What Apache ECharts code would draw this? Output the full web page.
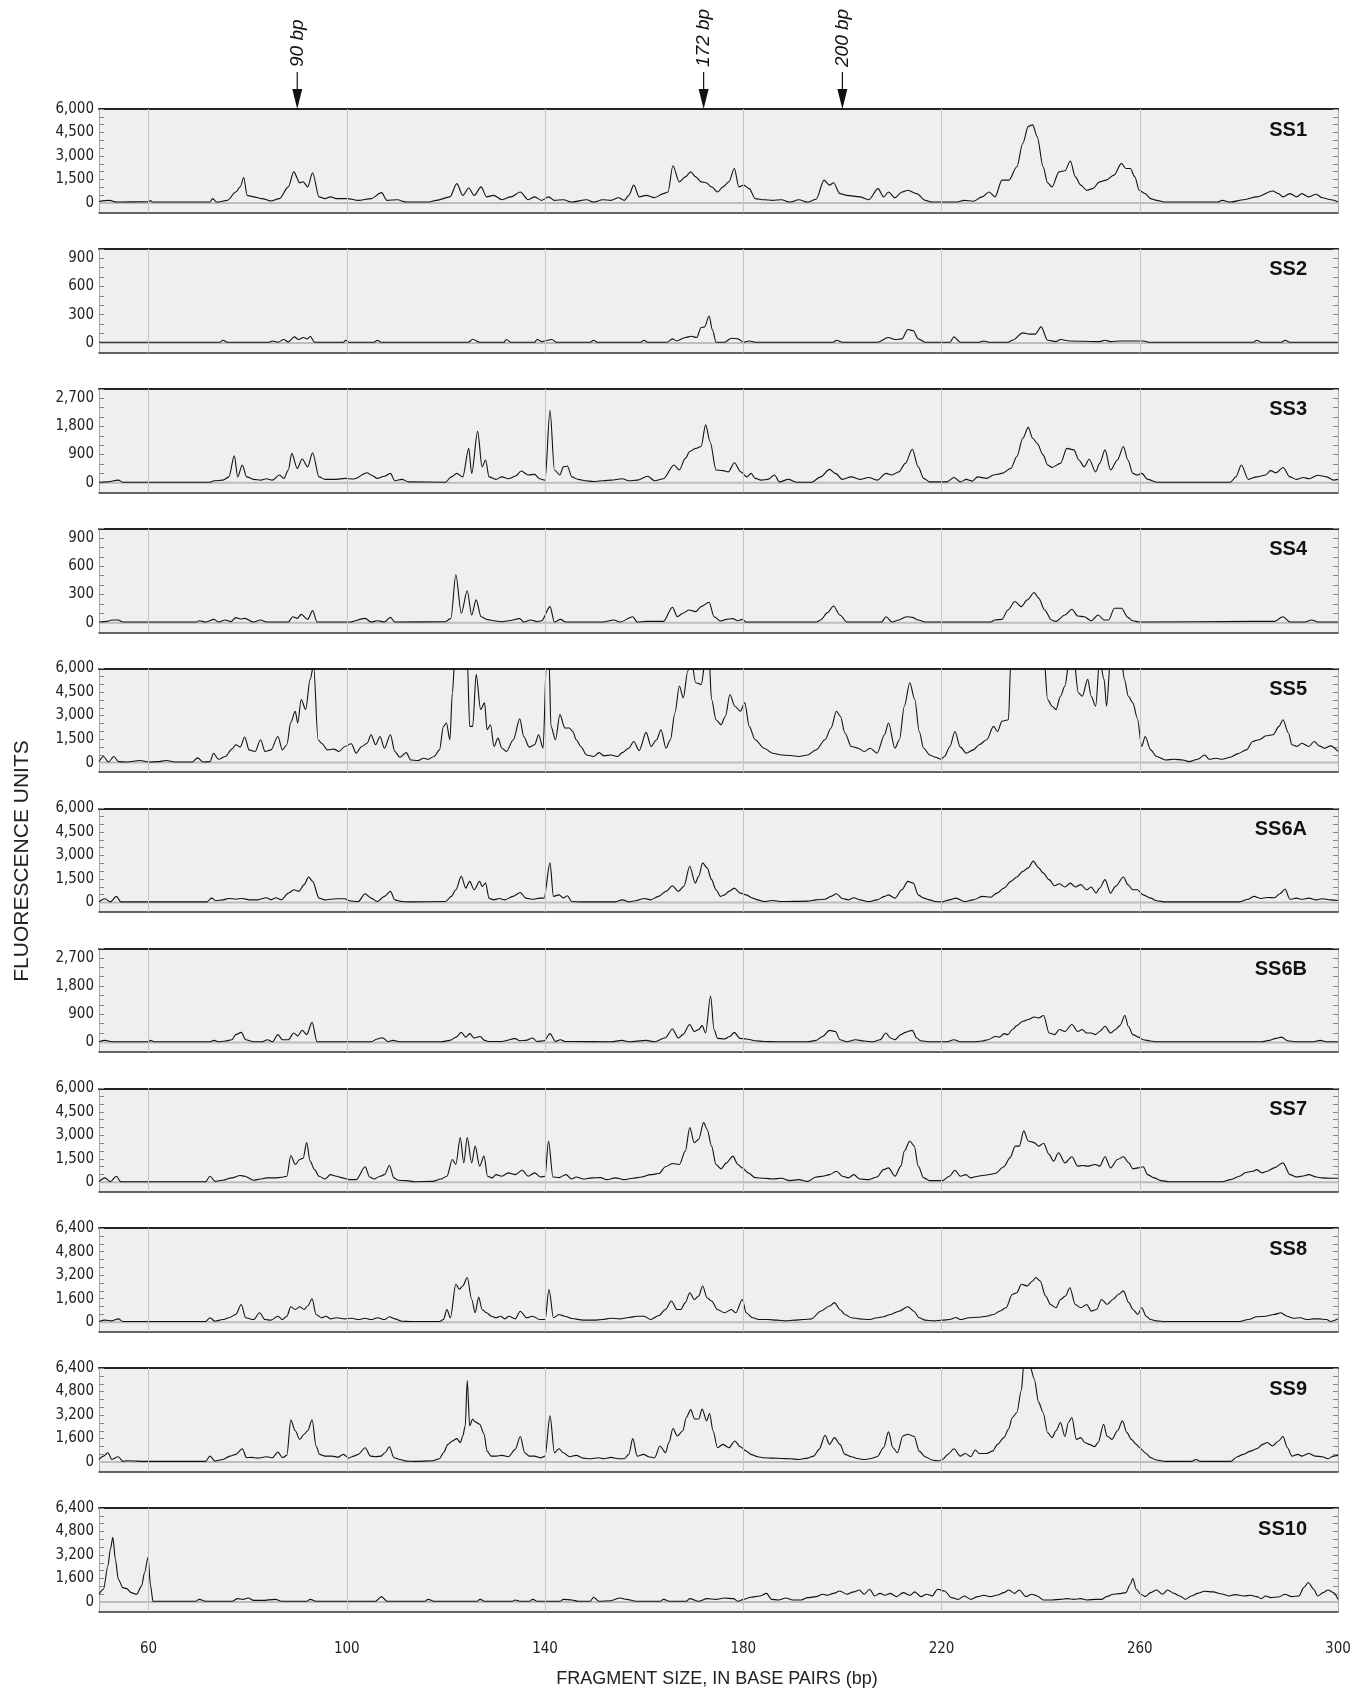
<!DOCTYPE html>
<html><head><meta charset="utf-8">
<script src="https://cdn.jsdelivr.net/npm/echarts@6/dist/echarts.min.js"></script>
<style>html,body{margin:0;padding:0;background:#fff}#c{width:1368px;height:1691px}</style>
</head><body><div id="c"></div>
<script>
// ---------------- DATA ----------------
const sampleNames = ['SS1','SS2','SS3','SS4','SS5','SS6A','SS6B','SS7','SS8','SS9','SS10'];
const yMax = [6000,1000,3000,1000,6000,6000,3000,6000,6400,6400,6400];
const yLabelStep = [1500,300,900,300,1500,1500,900,1500,1600,1600,1600];
const xTickLabels = [60,100,140,180,220,260,300];
const xGridLines = [60,100,140,180,220,260];
const markerSizes = [90,172,200];
const markerLabels = ['90 bp','172 bp','200 bp'];
const xTitle = 'FRAGMENT SIZE, IN BASE PAIRS (bp)';
const yTitle = 'FLUORESCENCE UNITS';

const ss1 = [[50,100],[52.1,170],[53.5,60],[60,80],[60.4,160],[60.8,60],[72.4,60],[72.9,280],[73.8,60],[75.9,170],[77.6,700],[78.5,1030],[79.2,1630],[79.9,490],[81.2,390],[82.9,280],[84.7,130],[86.4,280],[88.2,1030],[89.3,1990],[90.5,1290],[91.2,1350],[92.1,1030],[93.1,1930],[94.4,390],[95.6,280],[96.7,390],[97.9,280],[100.2,280],[102.3,170],[104.9,280],[107,660],[108.1,170],[110.2,210],[112,60],[116.4,60],[118.1,170],[120.8,390],[122.2,1240],[123.4,490],[124.6,960],[125.7,490],[127.1,1030],[128.2,390],[129.6,490],[131.3,210],[133.1,390],[135,700],[136.6,210],[137.9,390],[139.3,170],[140.7,390],[141.9,170],[143.7,210],[145.4,60],[148.4,210],[149.8,60],[151.6,210],[153.3,170],[154.8,340],[156,170],[156.9,490],[157.9,1140],[159,390],[160.4,490],[162.1,340],[163.9,600],[164.8,700],[165.8,2380],[167.1,1350],[168.3,1670],[169.4,1990],[170.4,1670],[171.5,1350],[172.5,1290],[173.6,1030],[174.8,700],[175.9,1030],[177.1,1350],[178.2,2200],[179.1,1030],[180.1,1140],[181.2,920],[182.4,280],[184.2,210],[185.9,170],[187.7,210],[189.4,60],[191.2,210],[193,60],[194.7,240],[196.3,1460],[197.4,1140],[198.2,1290],[199.5,600],[200.9,490],[203.5,390],[205.3,210],[207.2,920],[208.3,390],[209.3,700],[210.6,340],[212,700],[213.2,810],[215,600],[216.7,170],[218.1,60],[222.9,60],[224.6,170],[226.4,110],[228.2,390],[229.6,700],[230.8,390],[232.2,1460],[233.6,1460],[235.2,2310],[236.4,3810],[237.5,4890],[238.4,4990],[239.3,4240],[240.5,2310],[241.4,1290],[242.3,1030],[243.7,1990],[244.9,2060],[246,2680],[247,1670],[248.1,1140],[249.3,810],[250.5,920],[251.9,1350],[253.2,1460],[254.8,1780],[256.3,2530],[257.2,2200],[258.1,2200],[259,1670],[259.9,810],[261.1,600],[262.2,280],[263.4,170],[265.2,60],[275.7,60],[276.6,170],[278.3,60],[281,210],[283.6,390],[286.8,770],[288,600],[288.9,390],[290.3,600],[291.7,390],[292.7,600],[294.1,390],[295.6,560],[296.8,340],[298.6,210],[300,60]];

const ss2 = [[50,7],[74.4,7],[75,29],[75.9,7],[84.3,7],[85,21],[86.1,7],[87.3,36],[88.2,11],[89.4,64],[90.3,36],[91.2,57],[92.1,43],[92.6,71],[93.5,7],[99.3,7],[99.8,29],[100.5,7],[105.5,7],[106.2,29],[106.9,7],[124.5,7],[125.4,39],[126.8,7],[131.7,7],[132.2,36],[133.1,7],[137.9,7],[138.4,36],[139.3,14],[141.4,36],[142.3,7],[149.1,7],[149.8,29],[150.5,7],[159.3,7],[160,29],[160.7,7],[164.6,7],[165.7,43],[166.5,21],[168.3,57],[169.5,71],[170.6,57],[171.5,164],[172.2,171],[173.1,286],[173.8,136],[174.5,7],[176.2,7],[177.6,50],[178.9,43],[180.1,7],[181.2,21],[182.4,7],[198.1,7],[198.8,29],[200,7],[207,7],[209.3,57],[210.6,36],[212,43],[213.2,143],[214.3,129],[215.3,43],[216.7,7],[221.7,7],[222.5,64],[223.8,7],[227.6,7],[228.5,21],[229.6,7],[233.4,7],[234.3,29],[236.4,107],[237.8,93],[238.9,93],[240.1,171],[241.4,29],[243.1,14],[244,36],[245.8,21],[251.9,14],[253,29],[254.1,14],[256,21],[260.8,21],[261.8,7],[282.9,7],[283.6,29],[284.5,7],[288.6,7],[289.3,29],[290.3,7],[300,7]];

const ss3 = [[50,20],[51.6,30],[53.9,86],[54.8,20],[72.4,20],[73.2,64],[75,86],[76.2,190],[77.3,860],[78,190],[78.9,570],[79.8,190],[81.2,110],[82.6,86],[83.8,130],[85,86],[86.4,250],[87.3,140],[88.2,410],[88.9,940],[90,460],[91,760],[92.1,510],[93.1,960],[94.4,190],[95.6,110],[97.9,110],[99.6,140],[101.4,120],[104.1,320],[104.9,250],[106.2,140],[107.6,210],[108.8,300],[109.7,64],[111.1,110],[112.5,30],[119.9,20],[121.1,190],[122.2,300],[123.4,190],[124.6,1100],[125.2,300],[126.4,1640],[127.3,510],[128,730],[128.7,190],[130.1,110],[131.3,190],[132.6,130],[134,210],[135.2,375],[136.6,250],[137.9,270],[138.9,130],[140,86],[141,2310],[141.9,410],[143,250],[143.7,510],[144.5,535],[145.4,190],[146.7,110],[148.1,64],[149.8,43],[153.3,86],[155.6,130],[156.9,64],[158.6,86],[160.7,210],[162.1,64],[163.9,130],[166,570],[167.1,410],[168.3,780],[169.2,1000],[170.4,1100],[171.5,1160],[172.4,1850],[173.3,1320],[174.5,410],[175.9,390],[177,350],[178.2,640],[179.5,350],[180.7,190],[181.6,300],[182.4,140],[183.6,86],[185,110],[186.3,250],[187.3,30],[189.1,110],[190.7,20],[193.8,20],[195.6,190],[197.4,430],[198.6,300],[200,110],[201.8,190],[203.5,110],[205.3,170],[207,86],[208.8,300],[210,250],[211.4,350],[212.7,620],[214.1,1070],[215.3,510],[216.4,140],[217.6,30],[221.1,30],[222.5,170],[223.8,30],[225,110],[226.2,54],[227.3,190],[229.1,140],[230.5,250],[232.2,300],[234,460],[235.2,840],[236.4,1420],[237.5,1770],[238.4,1420],[239.3,1260],[240.5,890],[241.4,570],[242.3,490],[244,620],[245.3,1100],[246.7,1050],[247.7,730],[248.8,510],[249.8,750],[251.1,350],[251.9,620],[253,1050],[254.1,410],[255.5,730],[256.7,1160],[257.6,730],[258.6,300],[259.5,250],[260.4,300],[261.6,110],[263.4,20],[278.3,20],[279.4,190],[280.5,570],[281.9,110],[283.6,190],[285.4,250],[286.4,390],[287.5,320],[288.9,490],[290.3,190],[291.6,110],[293,170],[294.2,130],[295.9,240],[297.7,190],[299.1,86],[300,110]];

const ss4 = [[50,7],[51.6,14],[52.6,29],[53.9,29],[54.8,7],[69.7,7],[70.2,21],[71.5,7],[73.2,36],[74.1,7],[75.5,29],[76.6,11],[77.6,54],[78.5,39],[79.4,46],[81.2,7],[82.6,29],[83.8,7],[88.2,7],[89.1,64],[90,46],[90.8,89],[92.1,36],[93.1,129],[94,7],[100.5,7],[103.7,46],[104.9,7],[106.2,21],[107.6,7],[108.8,57],[109.7,7],[119.9,11],[121,46],[122,510],[123.1,100],[124.3,340],[125.2,82],[126.1,243],[127.1,64],[128.2,36],[129.6,21],[131.3,11],[132.6,21],[134.9,43],[135.7,7],[137.1,29],[138.4,11],[139.3,21],[141,171],[141.9,7],[143.1,36],[144.2,7],[151.6,7],[153.9,29],[155.1,7],[157.7,64],[158.6,7],[160.4,14],[163.9,14],[165.7,164],[166.7,64],[167.8,100],[169,136],[170.4,118],[171.5,171],[173.1,218],[174.1,64],[175.4,18],[176.6,36],[177.9,43],[178.9,21],[179.8,36],[180.6,7],[194.8,7],[195.6,29],[197,107],[198.2,178],[199.5,82],[200.9,7],[207.9,7],[208.8,64],[210,7],[211.4,29],[212.9,64],[214.1,57],[215.3,29],[216.7,7],[229.9,7],[230.8,29],[232.2,36],[233.4,136],[234.8,225],[236.1,171],[237.3,243],[238.7,321],[239.6,261],[240.8,136],[242.2,29],[243.1,14],[244.9,82],[246.3,143],[247.5,71],[248.8,64],[250.2,21],[251.6,82],[252.8,29],[253.7,29],[254.9,154],[256.3,154],[257.6,57],[258.6,21],[259.9,7],[282.8,14],[287.2,14],[288.9,64],[290.3,7],[293.3,7],[294.7,29],[296,7],[300,7]];

const ss5 = [[50,60],[50.9,390],[51.9,40],[53,390],[53.9,60],[55.6,40],[58.3,130],[60,40],[61.8,60],[63.6,130],[65.3,40],[68.8,40],[69.9,300],[71,40],[72.4,60],[73.1,600],[74.1,210],[75.5,390],[76.8,860],[77.6,1140],[78.5,990],[79.4,1630],[80.3,810],[81.5,710],[82.6,1460],[83.5,710],[84.7,810],[86.1,1670],[87,810],[87.9,1140],[88.7,2570],[89.6,3280],[90.1,2530],[90.8,4030],[91.7,3390],[92.6,5310],[93.3,6200],[94.2,1460],[94.9,1240],[96.1,810],[97.4,860],[98.4,710],[99.6,1030],[100.9,1200],[101.9,600],[103,1030],[104.1,1240],[104.9,1780],[105.8,1140],[106.7,1670],[107.6,920],[108.8,1780],[109.7,710],[110.7,340],[112,640],[112.9,170],[114.3,130],[115.5,280],[116.4,210],[117.6,390],[118.7,810],[119.5,2310],[120.1,2530],[120.8,1460],[121.3,4460],[121.8,6600],[123.1,6600],[124.3,6600],[124.8,2310],[125.4,2310],[126.1,5640],[127,3390],[127.8,3810],[128.3,2100],[129,2420],[129.7,1030],[130.5,1560],[131.3,920],[132.2,710],[133.6,1460],[134.9,2790],[135.7,1670],[136.8,990],[137.9,1140],[138.7,1780],[139.6,920],[140.3,6600],[140.8,6600],[141.2,2310],[142.1,1460],[143,3060],[144,2210],[144.9,2210],[145.6,1990],[146.3,1460],[147.2,1030],[148.4,490],[149.8,390],[150.9,640],[151.9,430],[153.3,490],[154.6,390],[155.6,640],[156.9,920],[157.9,1350],[159,770],[160.4,1930],[161.4,1030],[162.5,1460],[163.4,2100],[164.4,920],[165.3,1460],[166.2,3170],[167.1,4890],[167.9,4140],[168.8,5850],[169.5,6600],[170.4,5100],[171.5,4990],[172.4,6600],[173.1,6600],[173.6,4030],[174.5,2740],[175.5,2420],[176.4,2960],[177.3,4350],[178.3,3600],[179.4,3280],[180.3,3810],[181.2,2310],[182.4,1460],[184.2,920],[185.9,600],[187.7,490],[189.4,450],[191.2,390],[193,490],[194.7,810],[196.5,1460],[197.7,2210],[198.8,3280],[199.6,2960],[200.5,1890],[201.8,1030],[203.2,920],[204.4,710],[205.6,920],[207,600],[208.5,1780],[209.3,2530],[210.6,920],[211.5,1460],[212.5,3600],[213.6,5100],[214.6,4030],[215.5,1990],[216.4,920],[217.6,490],[218.8,340],[219.9,210],[220.6,390],[221.7,1030],[222.7,1990],[223.8,990],[225,600],[226.4,810],[227.6,1140],[229.1,1460],[230.5,2310],[231.3,1990],[232.2,2640],[233.5,2740],[234,6600],[240.7,6600],[241.4,4030],[242.3,3600],[243.1,3390],[244,4240],[244.9,4890],[245.8,6600],[246.7,6600],[247.6,4460],[248.4,4240],[249.5,5310],[250.2,4240],[251.1,3600],[251.9,6600],[252.8,5310],[253.3,3600],[254.1,6600],[256.3,6600],[256.9,5310],[257.7,4240],[258.6,3810],[259.5,2850],[260.4,1030],[261.1,1670],[262.2,810],[263.4,390],[265.2,170],[266.9,210],[268.7,170],[269.9,60],[271.7,210],[273.1,490],[274,210],[275.4,280],[276.6,210],[278.3,340],[279.7,560],[281.5,810],[282.8,1350],[284.1,1460],[285.5,1710],[286.9,1780],[288.1,2310],[288.9,2740],[290,1890],[290.7,1140],[291.7,1030],[292.7,1240],[294.1,1030],[295.2,1350],[296.2,1070],[297.3,920],[298.5,1070],[300,710]];

const ss6a = [[50,40],[51.2,240],[52.3,40],[53.5,390],[54.4,40],[71.8,40],[72.7,280],[73.6,110],[75,170],[76.2,260],[77.6,210],[78.9,260],[80.3,170],[82,170],[83.8,300],[84.7,170],[85.7,300],[86.8,170],[88.2,600],[89.3,810],[90.3,710],[91.4,1140],[92.3,1630],[93.1,1350],[94.4,280],[95.6,170],[97.9,240],[99.6,240],[100.5,110],[102.3,60],[103.7,560],[104.9,280],[106.2,60],[107.6,390],[108.8,710],[109.7,170],[111.1,60],[112.5,40],[119.9,60],[121.1,390],[122,810],[123.1,1670],[124,920],[124.8,1350],[125.7,810],[126.8,1350],[127.3,1030],[128,1240],[128.7,280],[129.6,170],[130.8,260],[131.9,170],[133.5,390],[135,640],[136.1,280],[137.5,210],[138.9,280],[139.8,280],[141,2530],[141.7,390],[142.8,490],[143.7,280],[144.5,430],[145.4,60],[147.2,40],[154.2,40],[155.6,170],[156.9,40],[158.3,110],[160,260],[161.3,170],[162.9,390],[164.4,710],[165.7,1070],[166.9,710],[168,1030],[169.2,2310],[170.3,1240],[171,1670],[171.8,2530],[172.7,2210],[173.6,1460],[174.5,810],[175.4,390],[176.2,490],[177.1,710],[178.2,920],[179.4,600],[180.6,490],[181.9,280],[182.9,170],[184.2,60],[185.9,130],[187.7,60],[193,90],[194.7,170],[196.5,210],[197.7,390],[198.8,560],[200,260],[201.2,170],[202.3,300],[203.5,170],[205.3,60],[207,170],[208.5,390],[209.3,490],[210.6,280],[212,810],[213.2,1350],[214.3,1240],[215.3,490],[216.4,280],[217.6,170],[218.8,60],[220.2,40],[221.6,170],[222.9,280],[224.6,60],[226.4,170],[228.2,390],[229.9,340],[231.2,600],[232.6,920],[234,1350],[235.2,1630],[236.4,1990],[237.5,2210],[238.5,2640],[239.6,2210],[240.5,1890],[241.7,1460],[242.8,1070],[243.8,1200],[244.9,990],[246,1240],[247,990],[248.1,1140],[249.3,810],[250.2,990],[251.2,600],[251.9,920],[253,1460],[254.1,600],[255.1,1030],[256.7,1630],[257.6,1140],[258.6,810],[259.5,810],[260.7,490],[262.2,280],[263.4,110],[265.2,40],[280.1,40],[281.9,210],[283,390],[284.5,260],[285.7,320],[287.1,300],[288.3,560],[289.3,860],[290.3,210],[291.6,280],[292.7,210],[294.1,280],[295.6,170],[296.8,240],[298.5,170],[300,130]];

const ss6b = [[50,20],[51.2,64],[52.6,20],[60,20],[60.4,64],[61.1,20],[72.4,20],[73.2,64],[74.1,20],[75.5,43],[76.8,86],[77.6,250],[78.7,320],[79.6,86],[81.2,20],[82.9,20],[84,86],[85,20],[86.1,250],[87,86],[88.2,86],[89.3,300],[90.1,210],[91,390],[91.9,250],[93,640],[94,20],[104.9,20],[106.2,110],[107.2,150],[108.3,30],[109.3,64],[110.6,20],[119,20],[120.8,64],[122,160],[123.1,320],[124,170],[124.8,280],[125.7,140],[126.9,190],[127.8,64],[128.7,30],[131.3,30],[134,120],[134.9,54],[136.1,64],[137.5,140],[138.4,30],[139.8,54],[141,280],[142.1,30],[143.1,86],[144,30],[145.4,30],[153.3,20],[155.5,64],[156.9,20],[160.4,64],[162.1,20],[164.3,150],[165.7,430],[166.9,140],[167.8,250],[169.2,570],[170.1,350],[171,410],[171.7,535],[172.4,300],[173.4,1480],[174.1,410],[174.8,130],[176.2,110],[177.3,190],[178.2,320],[179.3,130],[180.6,110],[182.4,54],[184.2,30],[186.8,20],[193,20],[194.7,64],[196,190],[197.4,385],[198.6,350],[199.5,86],[200.9,20],[202.6,86],[204.4,43],[206.2,20],[207.6,86],[208.8,300],[209.7,140],[210.6,86],[211.8,250],[212.7,320],[214.1,385],[215,140],[215.8,54],[217.6,20],[221.1,20],[222.5,86],[223.8,20],[226.4,20],[228.2,43],[229.4,86],[230.8,190],[231.7,170],[232.6,280],[233.4,250],[234.3,410],[235.2,535],[236.4,675],[237.5,730],[238.7,810],[239.6,780],[240.6,860],[241.7,300],[242.8,250],[243.8,410],[244.9,350],[246.3,570],[247.5,350],[248.4,410],[249.3,300],[250.2,300],[251.1,250],[251.9,350],[253,515],[254.1,300],[255.1,410],[256,535],[257,860],[257.7,515],[258.6,250],[259.7,170],[260.7,86],[262.2,43],[263.4,20],[284.5,20],[286.2,64],[287.5,130],[288.6,170],[289.8,54],[291.6,20],[295,20],[296.4,64],[297.7,20],[300,20]];

const ss7 = [[50,40],[51.2,280],[52.3,40],[53.5,390],[54.4,40],[71.5,40],[72.4,390],[73.4,60],[75,130],[76.8,280],[78.5,430],[79.4,390],[81.2,130],[82.6,210],[83.8,280],[85.6,280],[86.8,320],[87.9,390],[88.7,1710],[89.6,1140],[90.5,1460],[91.2,1540],[91.9,2530],[92.6,1350],[93.5,810],[94.4,390],[95.6,210],[96.7,490],[97.9,390],[99.1,280],[100.5,170],[101.9,170],[103.7,990],[104.6,340],[105.5,210],[106.7,390],[107.6,490],[108.6,1070],[109.5,280],[110.4,130],[112,110],[113.7,40],[117.3,60],[119,210],[120.2,390],[121.3,1460],[122,1140],[122.9,2850],[123.6,1240],[124.3,2850],[125.2,1240],[125.9,2310],[126.8,1030],[127.7,1670],[128.4,390],[129.3,280],[130.1,490],[131.3,390],[132.6,600],[134,490],[135.4,770],[136.6,390],[137.9,600],[139.1,340],[140,390],[140.7,2640],[141.6,340],[142.8,300],[144.2,490],[145.4,210],[146.3,340],[147.7,210],[149.5,280],[151.2,300],[152.5,170],[154.2,280],[156,170],[157.7,260],[159.5,340],[161.3,490],[163,560],[164.3,990],[165.7,1200],[167.1,1140],[168.3,1990],[169.2,3490],[170.1,2530],[171,2740],[172,3810],[172.7,3390],[173.6,2310],[174.5,1140],[175.5,860],[176.6,1240],[177.9,1670],[178.9,1140],[179.8,920],[181,600],[182.4,300],[184.2,260],[185.9,210],[187.7,260],[189.4,110],[191.2,170],[193,60],[194.7,340],[196,390],[197.4,490],[198.8,710],[200,390],[201.2,280],[202.3,490],[203.5,210],[205.3,170],[207,340],[208.3,810],[209.3,920],[210.6,390],[211.8,1030],[212.5,1990],[213.6,2640],[214.5,2310],[215.3,1030],[216.4,280],[217.6,110],[220.2,110],[221.6,390],[222.7,770],[223.8,390],[224.9,490],[225.9,280],[227.3,390],[229.1,470],[230.8,560],[232.6,990],[233.8,1560],[234.9,2310],[235.7,2310],[236.6,3280],[237.5,2640],[238.7,2530],[239.6,2310],[240.6,2490],[241.7,1780],[242.6,1350],[243.6,1890],[244.9,1240],[246.3,1630],[247.5,1030],[248.4,1070],[249.6,1030],[251,1140],[251.9,1030],[253,1630],[254.1,920],[255.5,1460],[256.7,1630],[257.8,1240],[258.6,860],[259.7,920],[260.7,990],[261.6,490],[262.9,280],[264.3,110],[266,40],[276.6,40],[278.3,170],[280.1,390],[281.5,640],[282.8,710],[283.6,810],[284.7,600],[285.7,710],[287.1,920],[288.9,1240],[290.3,490],[291.6,340],[292.7,390],[294.1,490],[295.6,340],[296.8,280],[298.5,260],[300,260]];

const ss8 = [[50,50],[51.2,140],[52.6,90],[53.9,230],[54.8,50],[71.5,50],[72.4,300],[73.4,70],[75,180],[76.2,300],[77.6,530],[78.7,1210],[79.6,300],[81.2,180],[82.4,640],[83.5,180],[84.7,140],[86.1,410],[87,180],[87.9,410],[88.7,1050],[89.6,870],[90.5,1050],[91.4,870],[92.1,1100],[93,1600],[93.8,530],[94.9,300],[95.8,410],[96.7,230],[97.9,300],[99.6,230],[101.1,270],[102.3,180],[103.7,270],[104.9,180],[106.2,300],[107.6,180],[108.6,370],[109.7,230],[111.1,70],[112.9,50],[118.7,50],[119.5,180],[120.2,870],[120.9,300],[122,2580],[122.7,2240],[123.4,2470],[124.3,3040],[125.2,1550],[125.9,640],[126.6,1710],[127.3,870],[128.2,640],[129.2,410],[130.1,300],[131,410],[131.9,230],[132.7,410],[134,230],[135,750],[136.3,300],[137.5,410],[138.9,180],[140,180],[140.8,2240],[141.7,300],[142.8,530],[143.9,410],[145.4,250],[147.7,140],[149.8,140],[151.6,180],[153.3,270],[155.1,230],[156.9,320],[158.6,410],[160,410],[161.3,180],[163,460],[164.3,870],[165.5,1440],[166.6,870],[167.4,870],[168.3,1330],[169.2,2010],[170.1,1550],[171,1780],[171.8,2470],[172.7,1670],[173.6,1440],[174.8,870],[176.2,640],[177.6,870],[178.5,640],[179.8,1550],[180.6,640],[181.9,300],[183.3,180],[185,180],[186.8,140],[188.6,90],[190.3,140],[192.1,180],[193.8,230],[195.6,750],[197.4,1100],[198.4,1330],[199.5,870],[200.5,530],[201.8,300],[203.5,230],[205.3,180],[207,300],[208.3,370],[209.7,530],[211.4,750],[213.2,1050],[214.4,750],[215.5,300],[216.7,140],[218.5,90],[220.2,140],[221.6,180],[222.9,320],[223.8,180],[225.5,300],[227.3,340],[229.1,410],[230.5,530],[231.7,750],[233,980],[234.3,1900],[235.2,2010],[236.1,2580],[237.3,2470],[238.4,2810],[239,3040],[239.9,2810],[241,1780],[242,1210],[243.1,980],[244,1550],[245,1780],[245.9,2350],[247,1210],[248.1,980],[249.3,1210],[250.2,750],[251.3,870],[252.3,1550],[253.4,1210],[254.6,1550],[255.7,1900],[256.7,2130],[257.8,1330],[258.6,870],[259.6,530],[260.4,980],[261.3,410],[262.2,180],[263.4,90],[265.2,50],[280.1,50],[281.9,180],[283.6,370],[285.4,410],[287.1,530],[288.5,640],[289.7,410],[291,270],[292.4,300],[293.8,180],[295,230],[296.2,230],[297.7,180],[298.5,50],[300,230]];

const ss9 = [[50,180],[50.9,410],[51.8,640],[52.6,180],[53.9,370],[54.8,50],[55.6,90],[60,50],[71.5,50],[72.4,410],[73.4,70],[75,180],[76.4,410],[77.6,530],[78.9,910],[79.8,300],[80.8,320],[82,270],[83.8,370],[85,300],[86.1,690],[87,300],[87.9,460],[88.7,2860],[89.6,2130],[90.5,1550],[91.4,1900],[92.1,2130],[93,2880],[93.8,1100],[94.5,530],[95.6,410],[97,410],[98.2,340],[99.3,530],[100.4,270],[101.4,410],[102.3,530],[103.7,980],[104.8,410],[105.8,370],[106.9,410],[107.7,640],[108.6,1050],[109.5,300],[110.7,180],[112,70],[113.7,50],[117.3,90],[118.7,230],[119.5,640],[120.4,1210],[121.3,1440],[122.2,1600],[122.9,1330],[123.4,1780],[123.9,2470],[124.3,5560],[124.8,2470],[125.4,2930],[125.9,2740],[126.8,2580],[127.7,1900],[128.3,750],[129.1,410],[130.1,410],[131.3,460],[132.6,370],[134,870],[135,1740],[135.9,640],[136.8,410],[137.9,410],[139.1,300],[140,410],[141,3150],[141.9,640],[142.8,910],[143.7,640],[144.9,370],[146.3,460],[147.7,270],[149,230],[150.8,300],[151.9,230],[153.3,320],[154.8,230],[156,230],[156.9,530],[157.7,1600],[158.6,410],[159.9,530],[160.9,370],[162.1,300],[163.2,1100],[164.3,640],[165,1330],[165.8,2290],[166.7,1780],[167.8,2130],[168.5,3040],[169.4,3570],[170.2,2930],[171,2930],[171.7,3610],[172.6,2810],[173.2,3310],[173.9,2130],[174.8,980],[175.9,1210],[177.1,980],[178.3,1440],[179.4,1050],[180.6,750],[181.5,530],[182.9,370],[184.2,300],[185.9,270],[187.7,250],[189.4,230],[191.2,180],[193,270],[194.2,410],[195.3,870],[196.5,1830],[197.4,1210],[198.4,1670],[199.5,1210],[200.5,530],[201.8,370],[203,250],[204.4,180],[205.8,250],[207,370],[208.3,980],[209.3,2060],[210.2,980],[211.1,640],[212.2,1780],[213.2,1900],[214.5,1740],[215.5,750],[216.7,370],[218.1,140],[219.4,90],[220.2,180],[221.3,530],[222.5,910],[223.8,410],[224.8,590],[225.9,370],[226.8,820],[227.6,590],[229.1,590],[230.3,750],[231.3,1210],[232.6,1670],[233.5,2240],[234.3,3040],[235.2,3380],[236.1,4870],[236.6,6600],[237.8,6600],[238.7,5670],[239.6,4070],[240.5,3380],[241.4,2010],[242.3,1670],[243.1,2130],[244,2700],[244.9,1740],[245.6,2700],[246.3,3040],[247.2,1550],[248.1,1670],[248.9,1330],[249.8,1210],[250.9,1050],[251.6,1330],[252.7,2580],[253.4,1780],[254.4,1550],[255.5,2130],[256.5,2810],[257.4,2010],[258.3,1550],[259.3,1210],[260,980],[261.1,640],[262.2,300],[263.4,140],[265.2,50],[270.4,50],[271.3,180],[272.3,50],[278.3,50],[279.7,370],[280.9,530],[282.3,750],[283.6,910],[284.8,1210],[285.7,1330],[286.8,1100],[288,1440],[288.9,1740],[289.8,980],[290.7,410],[291.9,530],[292.7,410],[294.1,590],[295.4,410],[296.8,370],[298,230],[299.1,410],[300,460]];

const ss10 = [[50,530],[50.9,870],[51.8,2470],[52.3,3610],[52.8,4410],[53.3,2930],[53.9,1550],[54.8,980],[55.6,910],[56.5,640],[57.6,530],[58.6,1100],[59.2,2010],[59.9,3040],[60.4,1100],[60.9,50],[69.5,50],[70.2,180],[71.5,50],[76.8,50],[78,230],[79,180],[80.1,270],[81.2,110],[82.9,110],[85.6,180],[86.8,50],[91.9,50],[92.6,180],[93.8,50],[105.8,50],[107,370],[108.1,50],[115.7,50],[116.4,180],[117.6,50],[126.2,50],[126.9,180],[127.8,50],[133.3,50],[134,140],[134.9,50],[136.8,50],[137.5,180],[138.4,50],[143,50],[143.7,180],[145.4,140],[146.7,50],[149.1,50],[149.8,320],[150.9,50],[153.3,90],[155.1,270],[156.5,180],[158.3,50],[163.2,50],[163.9,180],[165.1,50],[168.5,50],[169.2,230],[171,50],[172.7,230],[174.5,180],[176.2,270],[178,230],[178.9,50],[180.1,180],[181.5,320],[183.3,410],[184.7,590],[185.7,180],[187.1,140],[188.6,270],[190,140],[191.7,140],[193,300],[194.7,370],[196,530],[197,460],[198.2,590],[199.5,750],[200.9,530],[202.3,690],[203.4,820],[204.4,530],[205.5,870],[206.5,410],[207.6,590],[208.6,460],[209.7,590],[210.9,370],[212.3,640],[213.6,460],[214.6,690],[215.8,370],[217,530],[218.1,410],[219.2,870],[220.6,750],[222,300],[223.4,180],[224.6,410],[225.9,180],[227.3,370],[228.5,460],[229.9,370],[231.1,460],[232.6,640],[233.6,820],[234.7,590],[235.7,820],[237,370],[238.2,530],[239.3,410],[240.5,140],[242.3,140],[244,180],[245.3,230],[246.7,180],[248.1,230],[249.3,140],[251.1,180],[252.3,180],[253.3,370],[254.6,530],[255.8,570],[257.2,640],[258.1,1210],[258.6,1600],[259.3,870],[260.2,530],[261.1,370],[262.2,640],[263.4,820],[264.6,530],[265.6,820],[266.9,590],[268.1,410],[269.2,180],[270.4,410],[271.7,590],[273.1,730],[274.8,690],[276.6,550],[278,410],[279.2,500],[281,410],[282.4,460],[283.6,370],[284.5,230],[285.4,410],[286.4,300],[288,340],[289.3,530],[290.7,370],[292.1,410],[293.1,980],[294,1330],[295.1,870],[295.9,410],[297,640],[298,820],[299.1,640],[300,180]];

const traces = [ss1, ss2, ss3, ss4, ss5, ss6a, ss6b, ss7, ss8, ss9, ss10];

// ---------------- LAYOUT ----------------
const W = 1368, gridLeft = 99, gridRight = 30, top0 = 109, stepY = 139.9, panelH = 103.6;
const labelFont = "'Liberation Sans Narrow','DejaVu Sans Condensed','Liberation Sans',sans-serif";
const fmt = v => Number(v).toLocaleString('en-US');

const grid = [], xAxis = [], yAxis = [], series = [];
sampleNames.forEach((name, i) => {
  const top = top0 + i * stepY;
  grid.push({ left: gridLeft, right: gridRight, top: top, height: panelH, show: true,
    backgroundColor: '#efefef', borderWidth: 0 });
  const isLast = i === sampleNames.length - 1;
  xAxis.push({ type: 'value', gridIndex: i, min: 50, max: 300, position: 'bottom',
    axisLine: { show: true, onZero: false, lineStyle: { color: '#333', width: 1.5 } },
    axisTick: { show: false },
    splitLine: { show: false },
    axisLabel: { show: isLast, customValues: xTickLabels, margin: 30,
      fontFamily: labelFont, fontSize: 15, color: '#222' } });
  xAxis.push({ type: 'value', gridIndex: i, min: 50, max: 300, position: 'top',
    axisLine: { show: true, onZero: false, lineStyle: { color: '#222', width: 2 } },
    axisTick: { show: false }, axisLabel: { show: false }, splitLine: { show: false } });
  const mx = yMax[i], st = yLabelStep[i];
  const mn = -mx * 0.102;
  const labelVals = [0, st, 2 * st, 3 * st, 4 * st].filter(v => v <= mx);
  const tickVals = [];
  for (let k = 0; k <= 12; k++) { const v = k * st / 3; if (v <= mx + 1e-6) tickVals.push(v); }
  yAxis.push({ type: 'value', gridIndex: i, min: mn, max: mx, position: 'left',
    axisLine: { show: true, onZero: false, lineStyle: { color: '#aaa', width: 1 } },
    axisTick: { show: true, inside: true, length: 5, customValues: tickVals, lineStyle: { color: '#888' } },
    axisLabel: { show: true, customValues: labelVals, formatter: fmt, margin: 5,
      fontFamily: labelFont, fontSize: 15, color: '#222' },
    splitLine: { show: false } });
  yAxis.push({ type: 'value', gridIndex: i, min: mn, max: mx, position: 'right',
    axisLine: { show: true, onZero: false, lineStyle: { color: '#aaa', width: 1 } },
    axisTick: { show: true, inside: true, length: 5, customValues: tickVals, lineStyle: { color: '#888' } },
    axisLabel: { show: false }, splitLine: { show: false } });
  // zero line + vertical reference lines
  series.push({ type: 'line', xAxisIndex: 2 * i, yAxisIndex: 2 * i, z: 1, silent: true,
    data: [[50, 0], [300, 0]], showSymbol: false, symbol: 'none',
    lineStyle: { color: '#bdbdbd', width: 2 },
    markLine: { silent: true, symbol: 'none', label: { show: false }, animation: false,
      lineStyle: { color: '#c4c4c4', width: 1, type: 'solid' },
      data: xGridLines.map(v => ({ xAxis: v })) } });
  series.push({ type: 'line', name: name, xAxisIndex: 2 * i, yAxisIndex: 2 * i, z: 3,
    data: traces[i], showSymbol: false, symbol: 'none', clip: true,
    smooth: 0.3, smoothMonotone: 'x',
    lineStyle: { color: '#111', width: 1.1 } });
});

const chart = echarts.init(document.getElementById('c'), null, { renderer: 'canvas' });
chart.setOption({ animation: false, backgroundColor: '#fff', grid, xAxis, yAxis, series });

// ---------------- ANNOTATIONS ----------------
const graphic = [];
sampleNames.forEach((name, i) => {
  const top = top0 + i * stepY;
  graphic.push({ type: 'text', x: W - gridRight - 31, y: top + 21,
    style: { text: name, font: "bold 20px 'Liberation Sans', Arial, sans-serif",
      fill: '#111', align: 'right', verticalAlign: 'middle' } });
});
markerSizes.forEach((bp, k) => {
  const px = chart.convertToPixel({ xAxisIndex: 0 }, bp);
  const py = top0;
  graphic.push({ type: 'text', x: px, y: 67, rotation: Math.PI / 2,
    style: { text: markerLabels[k], font: "italic 19px 'Liberation Sans', Arial, sans-serif",
      fill: '#111', align: 'left', verticalAlign: 'middle' } });
  graphic.push({ type: 'line', shape: { x1: px, y1: 72, x2: px, y2: py - 10 },
    style: { stroke: '#111', lineWidth: 1.2 } });
  graphic.push({ type: 'polygon', shape: { points: [[px - 5, py - 20], [px + 5, py - 20], [px, py]] },
    style: { fill: '#111' } });
});
graphic.push({ type: 'text', x: 22, y: 861, rotation: Math.PI / 2,
  style: { text: yTitle, font: "21px 'Liberation Sans', Arial, sans-serif", fill: '#222',
    align: 'center', verticalAlign: 'middle' } });
graphic.push({ type: 'text', x: 717, y: 1679,
  style: { text: xTitle, font: "18px 'Liberation Sans', Arial, sans-serif", fill: '#222',
    align: 'center', verticalAlign: 'middle' } });
chart.setOption({ graphic });
</script>
</body></html>
